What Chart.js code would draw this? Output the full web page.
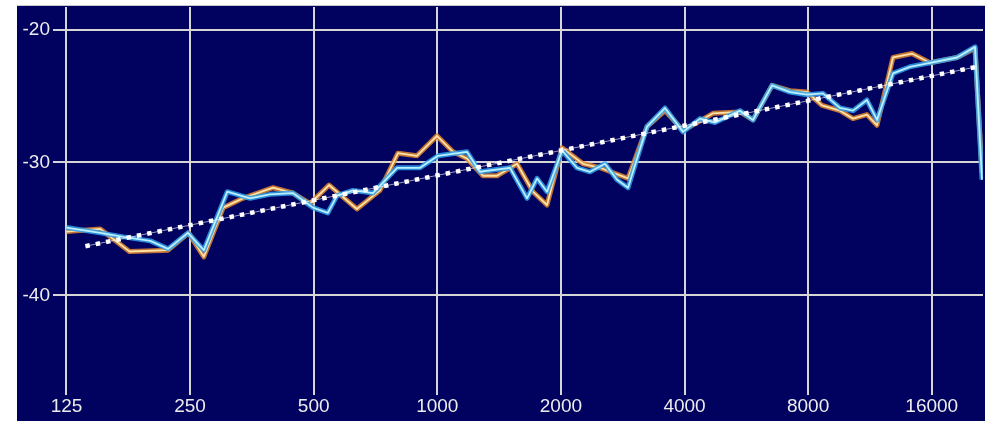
<!DOCTYPE html>
<html>
<head>
<meta charset="utf-8">
<script src="https://cdn.jsdelivr.net/npm/chart.js@4/dist/chart.umd.min.js"></script>
<style>
    body { margin: 0; background: #ffffff; }
    #panel {
        position: absolute; left: 17px; top: 5px;
        width: 968px; height: 415px;
        background: #01015f;
        border-top: 1px solid #c8c8d0;
    }
</style>
</head>
<body>
<div id="panel"><canvas id="spectrum" width="968" height="415"></canvas></div>
<script>
// Frequency ticks (Hz) and level ticks (dB)
const xTicks = [125, 250, 500, 1000, 2000, 4000, 8000, 16000];
const yTicks = [-40, -30, -20];

// Orange trace
const orangeFreq = [125, 151, 178, 221, 248, 270, 301, 336, 398, 445, 490, 545, 637, 725, 802, 892, 998, 1092, 1181, 1292, 1398, 1564, 1710, 1850, 2013, 2264, 2490, 2914, 3242, 3586, 3967, 4694, 5460, 5873, 6534, 7226, 7949, 8646, 9565, 10289, 11125, 11770, 12877, 14322, 15845, 18442, 20397, 21215];
const orangeDb = [-35.2, -35.0, -36.7, -36.6, -35.3, -37.1, -33.4, -32.7, -31.9, -32.3, -33.1, -31.7, -33.5, -32.1, -29.3, -29.5, -28.0, -29.2, -29.7, -31.0, -31.0, -30.1, -32.2, -33.2, -28.9, -30.1, -30.4, -31.2, -27.3, -26.1, -27.6, -26.3, -26.2, -26.8, -24.2, -24.6, -24.7, -25.7, -26.1, -26.7, -26.4, -27.2, -22.1, -21.8, -22.5, -22.1, -21.4, -30.8];

// Blue trace
const blueFreq = [125, 151, 172, 200, 221, 247, 270, 308, 350, 391, 445, 498, 541, 570, 623, 697, 798, 908, 1004, 1181, 1270, 1503, 1654, 1750, 1850, 2013, 2189, 2355, 2562, 2740, 2914, 3242, 3586, 3967, 4362, 4744, 5460, 5873, 6534, 7226, 7949, 8695, 9565, 10289, 11125, 11770, 12877, 14163, 15845, 18442, 20397, 21215];
const blueDb = [-34.9, -35.3, -35.6, -35.9, -36.5, -35.3, -36.6, -32.2, -32.7, -32.4, -32.3, -33.4, -33.8, -32.5, -32.1, -32.3, -30.4, -30.4, -29.5, -29.2, -30.7, -30.4, -32.7, -31.2, -32.2, -29.1, -30.4, -30.7, -30.1, -31.3, -31.9, -27.3, -25.9, -27.7, -26.7, -27.0, -26.1, -26.8, -24.2, -24.7, -24.9, -24.8, -25.9, -26.1, -25.3, -26.8, -23.3, -22.8, -22.5, -22.1, -21.3, -31.3];

// Trend line end points
const trendFreq = [139, 20630];
const trendDb = [-36.3, -22.8];

const pts = (xs, ys) => xs.map((x, i) => ({ x: x, y: ys[i] }));

const line = (data, color, width, extra) => Object.assign({
    data: data,
    borderColor: color,
    borderWidth: width,
    pointRadius: 0,
    tension: 0,
    fill: false,
    borderJoinStyle: 'round'
}, extra || {});

const labelFont = { family: 'Liberation Sans', size: 19 };

new Chart(document.getElementById('spectrum'), {
    type: 'line',
    data: {
        datasets: [
            // first in the list is drawn on top
            line(pts(trendFreq, trendDb), '#ffffff', 4.5, { borderDash: [4.5, 6], borderCapStyle: 'butt' }),
            line(pts(trendFreq, trendDb), 'rgba(255,255,255,0.6)', 1),
            line(pts(blueFreq, blueDb), '#b8f0ff', 1.8),
            line(pts(blueFreq, blueDb), 'rgba(50,160,235,0.85)', 5),
            line(pts(orangeFreq, orangeDb), '#ffe2a8', 1.8),
            line(pts(orangeFreq, orangeDb), 'rgba(225,135,45,0.85)', 5)
        ]
    },
    options: {
        responsive: false,
        animation: false,
        layout: { padding: { top: 1, right: 2, left: 0, bottom: 0 } },
        plugins: { legend: { display: false }, tooltip: { enabled: false } },
        scales: {
            x: {
                type: 'logarithmic',
                min: 115.9,
                max: 21330,
                afterBuildTicks: s => { s.ticks = xTicks.map(v => ({ value: v })); },
                afterFit: s => { s.height = 26; s.paddingLeft = 0; s.paddingRight = 0; },
                grid: { color: '#d6d6d6', lineWidth: 2, drawTicks: false },
                border: { display: false },
                ticks: {
                    autoSkip: false, maxRotation: 0, padding: 0,
                    color: '#ececec', font: labelFont,
                    callback: v => String(v)
                }
            },
            y: {
                min: -47.5,
                max: -18.3,
                afterBuildTicks: s => { s.ticks = yTicks.map(v => ({ value: v })); },
                afterFit: s => { s.width = 36; s.paddingTop = 0; s.paddingBottom = 0; },
                grid: { color: '#d6d6d6', lineWidth: 2, drawTicks: false },
                border: { display: false },
                ticks: {
                    padding: 3,
                    color: '#ececec', font: labelFont,
                    callback: v => String(v)
                }
            }
        }
    }
});
</script>
</body>
</html>
